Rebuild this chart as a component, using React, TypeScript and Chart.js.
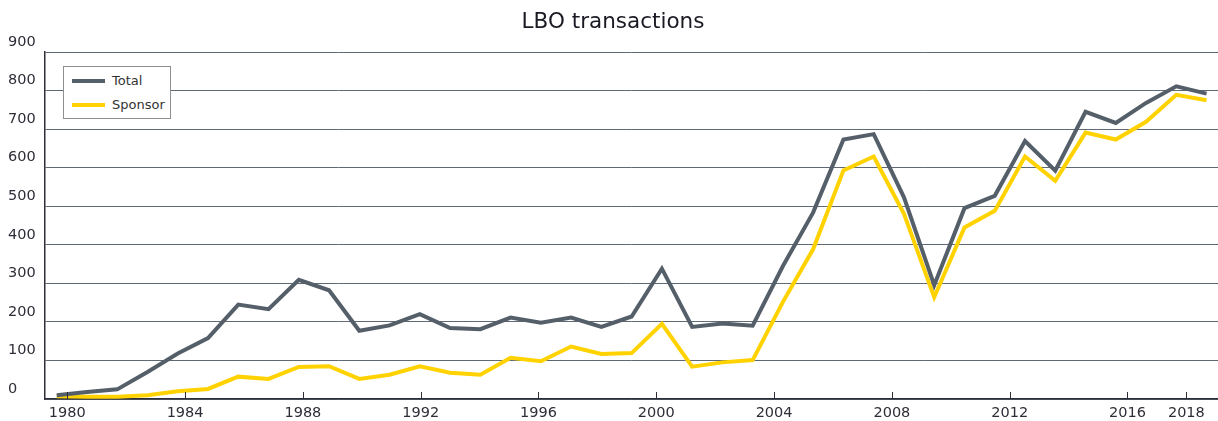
import React, { useEffect, useRef } from 'react';
import { Chart, registerables } from 'chart.js';

Chart.register(...registerables);

const TITLE = 'LBO transactions';
const SERIES_NAMES = ['Total', 'Sponsor'];
const YEARS = [
  1980, 1981, 1982, 1983, 1984, 1985, 1986, 1987, 1988, 1989,
  1990, 1991, 1992, 1993, 1994, 1995, 1996, 1997, 1998, 1999,
  2000, 2001, 2002, 2003, 2004, 2005, 2006, 2007, 2008, 2009,
  2010, 2011, 2012, 2013, 2014, 2015, 2016, 2017, 2018,
];
const TOTAL = [
  10, 18, 25, 70, 118, 158, 245, 233, 309, 282,
  177, 191, 220, 184, 181, 211, 198, 211, 187, 214,
  338, 187, 196, 190, 345, 484, 673, 687, 523, 295,
  495, 527, 669, 592, 745, 716, 768, 811, 792,
];
const SPONSOR = [
  7, 6, 6, 10, 20, 26, 58, 52, 83, 85,
  52, 63, 85, 68, 63, 107, 98, 136, 117, 119,
  195, 84, 95, 101, 252, 389, 593, 629, 480, 264,
  445, 488, 629, 566, 691, 673, 719, 789, 775,
];
const X_TICK_YEARS = [1980, 1984, 1988, 1992, 1996, 2000, 2004, 2008, 2012, 2016, 2018];
const Y_TICKS = [0, 100, 200, 300, 400, 500, 600, 700, 800, 900];

const COLORS = ['#555f69', '#ffd200'];
const FONT = '"DejaVu Sans", sans-serif';
const TEXT = '#2e2e38';

export default function App() {
  const ref = useRef<HTMLCanvasElement>(null);

  useEffect(() => {
    if (!ref.current) return;
    const tickMarks = {
      id: 'tickMarks',
      afterDraw(chart: any) {
        const s = chart.scales.xTicks;
        const ctx = chart.ctx;
        const bottom = chart.chartArea.bottom;
        ctx.save();
        ctx.strokeStyle = TEXT;
        ctx.lineWidth = 1;
        s.ticks.forEach((t: any) => {
          const px = Math.round(s.getPixelForValue(t.value)) + 0.5;
          ctx.beginPath();
          ctx.moveTo(px, bottom - 7);
          ctx.lineTo(px, bottom);
          ctx.stroke();
        });
        ctx.restore();
      },
    };

    const series = [TOTAL, SPONSOR];
    const chart = new Chart(ref.current, {
      type: 'line',
      data: {
        datasets: series.map((vals, k) => ({
          label: SERIES_NAMES[k],
          data: YEARS.map((y, i) => ({ x: y, y: vals[i] })),
          borderColor: COLORS[k],
          backgroundColor: COLORS[k],
          borderWidth: 4,
          pointRadius: 0,
          tension: 0,
          xAxisID: 'x',
          yAxisID: 'y',
        })),
      },
      options: {
        animation: false,
        responsive: false,
        layout: { padding: { left: 8, right: 0, top: 0, bottom: 0 } },
        plugins: {
          legend: { display: false },
          tooltip: { enabled: false },
          title: {
            display: true,
            text: TITLE,
            color: '#1a1a24',
            font: { family: FONT, size: 21.5, weight: 'normal', lineHeight: 1.2 },
            padding: { top: 9.6, bottom: 16.6 },
          },
        },
        scales: {
          x: { type: 'linear', display: false, min: 1979.613, max: 2018.378 },
          xTicks: {
            type: 'linear',
            position: 'bottom',
            min: 1979.243,
            max: 2019.074,
            afterBuildTicks: (s: any) => {
              s.ticks = X_TICK_YEARS.map((v) => ({ value: v }));
            },
            afterFit: (s: any) => {
              s.height = 22;
            },
            ticks: {
              callback: (v: any) => String(v),
              font: { family: FONT, size: 14.5 },
              color: TEXT,
              padding: 6,
              maxRotation: 0,
              autoSkip: false,
            },
            grid: { display: false, drawTicks: false },
            border: { display: true, color: TEXT, width: 1.5 },
          },
          y: {
            min: 0,
            max: 900,
            afterBuildTicks: (s: any) => {
              s.ticks = Y_TICKS.map((v) => ({ value: v }));
            },
            afterFit: (s: any) => {
              s.width = 37;
            },
            ticks: {
              crossAlign: 'far',
              labelOffset: -10,
              padding: 0,
              font: { family: FONT, size: 14.5 },
              color: TEXT,
            },
            grid: { color: '#5f6a74', lineWidth: 1, drawTicks: false },
            border: { display: true, color: TEXT, width: 1.5 },
          },
        },
      } as any,
      plugins: [tickMarks],
    });
    return () => chart.destroy();
  }, []);

  const legendItem = (name: string, color: string, centerY: number) => (
    <div key={name}>
      <div
        style={{
          position: 'absolute',
          left: 8,
          top: centerY - 2,
          width: 33,
          height: 4,
          background: color,
        }}
      />
      <div
        style={{
          position: 'absolute',
          left: 48,
          top: centerY - 8,
          height: 16,
          lineHeight: '16px',
          fontSize: 13,
          fontFamily: FONT,
          color: '#333333',
          whiteSpace: 'nowrap',
        }}
      >
        {name}
      </div>
    </div>
  );

  return (
    <div style={{ position: 'absolute', left: 0, top: 0, width: 1218, height: 421, background: '#ffffff' }}>
      <canvas ref={ref} width={1218} height={421} style={{ display: 'block' }} />
      <div
        style={{
          position: 'absolute',
          left: 63,
          top: 66,
          width: 108,
          height: 53,
          boxSizing: 'border-box',
          border: '1px solid #8f8f8f',
          background: '#ffffff',
        }}
      >
        {legendItem(SERIES_NAMES[0], COLORS[0], 14)}
        {legendItem(SERIES_NAMES[1], COLORS[1], 38)}
      </div>
    </div>
  );
}
